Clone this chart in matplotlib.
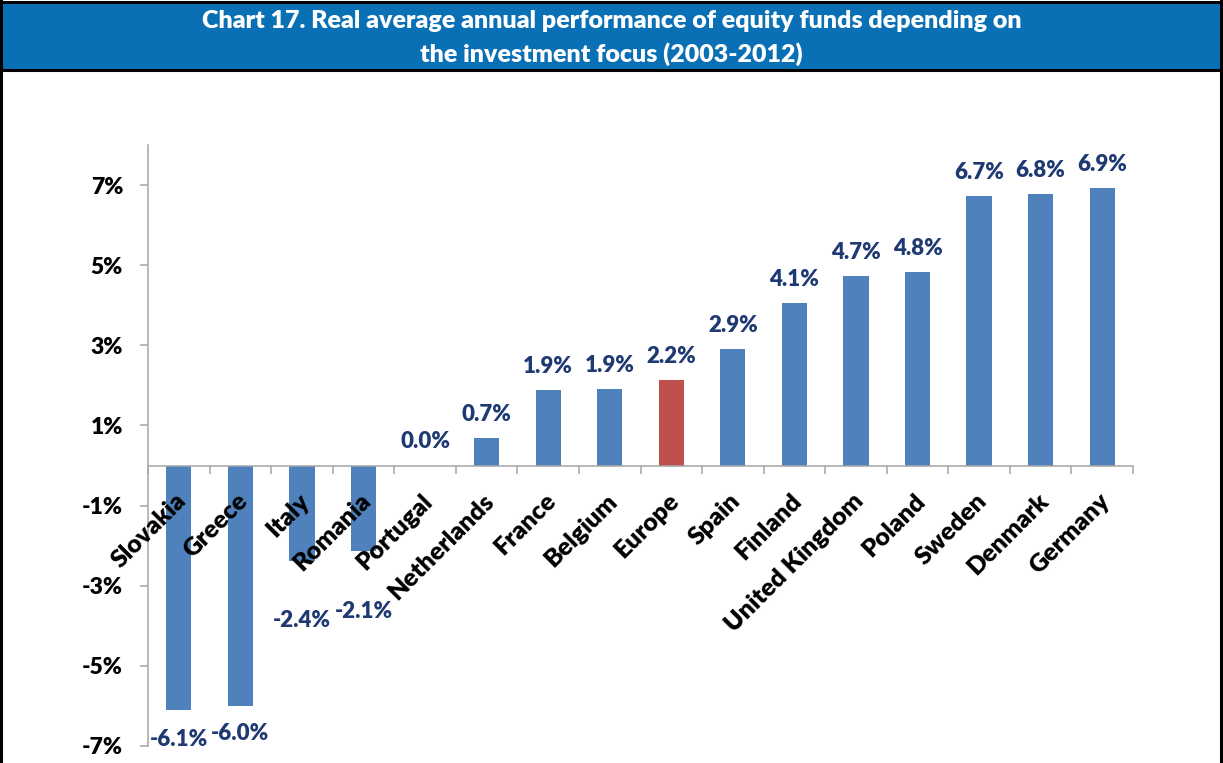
import matplotlib
matplotlib.use("Agg")
import matplotlib.pyplot as plt
import matplotlib.transforms as mtransforms
from matplotlib.patches import Rectangle
from matplotlib.ticker import FixedLocator, FuncFormatter
import numpy as np

plt.rcParams['font.family'] = ['Lato', 'DejaVu Sans']

countries = ["Slovakia", "Greece", "Italy", "Romania", "Portugal", "Netherlands",
             "France", "Belgium", "Europe", "Spain", "Finland", "United Kingdom",
             "Poland", "Sweden", "Denmark", "Germany"]
# bar heights (%)
values = [-6.10, -6.00, -2.38, -2.13, 0.0, 0.69, 1.89, 1.91, 2.14, 2.91,
          4.05, 4.72, 4.82, 6.73, 6.77, 6.93]
# data labels as printed on the chart
value_labels = ["-6.1%", "-6.0%", "-2.4%", "-2.1%", "0.0%", "0.7%", "1.9%", "1.9%",
                "2.2%", "2.9%", "4.1%", "4.7%", "4.8%", "6.7%", "6.8%", "6.9%"]
highlight = "Europe"
yticks = [-7, -5, -3, -1, 1, 3, 5, 7]

BLUE = "#4F81BD"
RED = "#C0504D"
NAVY = "#1F3A73"
HEADER = "#0A70B6"
GRAY = "#A6A6A6"
WEIGHT = "heavy"

fig = plt.figure(figsize=(12.23, 7.63), dpi=100)
W, H = 1223, 763

# header band and frame
fig.patches.append(Rectangle((0, 1 - 70 / H), 1, 68 / H, transform=fig.transFigure,
                             facecolor=HEADER, edgecolor="none", zorder=0))
fig.add_artist(plt.Line2D([0, 1], [1 - 70 / H, 1 - 70 / H], color="black", lw=2.2,
                          transform=fig.transFigure))
fig.add_artist(plt.Line2D([0, 1], [1 - 1.5 / H, 1 - 1.5 / H], color="black", lw=2.2,
                          transform=fig.transFigure))
fig.add_artist(plt.Line2D([1 / W, 1 / W], [0, 1], color="black", lw=2.2,
                          transform=fig.transFigure))
fig.add_artist(plt.Line2D([1 - 2 / W, 1 - 2 / W], [0, 1], color="black", lw=2.2,
                          transform=fig.transFigure))

fig.text(0.5, 1 - 21 / H, "Chart 17. Real average annual performance of equity funds depending on",
         ha="center", va="center", color="white", fontsize=18, fontweight=WEIGHT)
fig.text(0.5, 1 - 54 / H, "the investment focus (2003-2012)",
         ha="center", va="center", color="white", fontsize=18, fontweight=WEIGHT)

ax = fig.add_axes([148 / W, (H - 746) / H, (1133 - 148) / W, (746 - 145) / H])
ax.set_axisbelow(False)

x = np.arange(len(countries))
colors = [RED if c == highlight else BLUE for c in countries]
ax.bar(x, values, width=0.41, color=colors, zorder=1)

# data labels
neg_offsets = {"Slovakia": -21, "Greece": -20, "Italy": -43, "Romania": -44}
for xi, c, v, lab in zip(x, countries, values, value_labels):
    dy = neg_offsets.get(c, 17)
    ax.annotate(lab, (xi, v), xytext=(0, dy), textcoords="offset points",
                ha="center", va="center", color=NAVY, fontsize=16, fontweight=WEIGHT)

ax.set_xlim(-0.5, len(countries) - 0.5)
ax.set_ylim(-7, 8)

for s in ["top", "right"]:
    ax.spines[s].set_visible(False)
ax.spines["left"].set_color(GRAY)
ax.spines["left"].set_linewidth(1.1)
ax.spines["bottom"].set_position(("data", 0))
ax.spines["bottom"].set_color(GRAY)
ax.spines["bottom"].set_linewidth(1.1)

ax.set_yticks(yticks)
ax.yaxis.set_major_formatter(FuncFormatter(lambda v, p: f"{v:.0f}%"))
ax.tick_params(axis="y", length=6, width=1.1, color=GRAY, pad=12, labelsize=16.5)
for t in ax.get_yticklabels():
    t.set_fontweight(WEIGHT)

ax.set_xticks(x)
ax.set_xticklabels(countries, fontsize=18, fontweight=WEIGHT, rotation=45,
                   ha="right", va="center", rotation_mode="anchor")
ax.xaxis.set_minor_locator(FixedLocator(np.arange(-0.5, len(countries), 1.0)))
ax.tick_params(axis="x", which="major", length=0, pad=23)
ax.tick_params(axis="x", which="minor", length=6, width=1.1, color=GRAY, direction="out")
shift = mtransforms.ScaledTranslation(4 / 100, 0, fig.dpi_scale_trans)
for t in ax.get_xticklabels():
    t.set_transform(t.get_transform() + shift)

fig.savefig("out.png", dpi=100)
